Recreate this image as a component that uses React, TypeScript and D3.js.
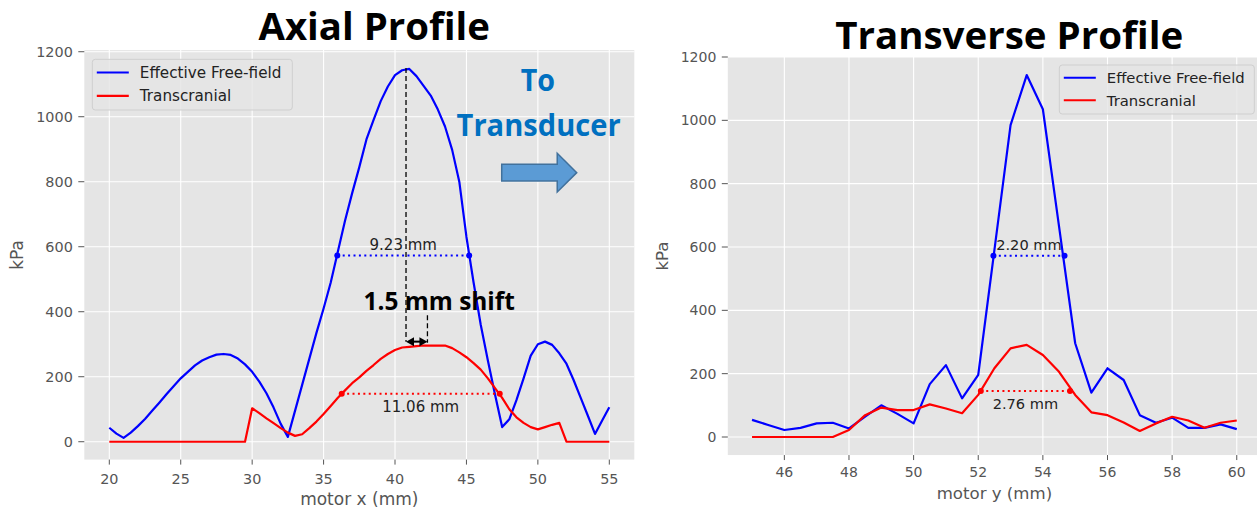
import React from "react";
import * as d3 from "d3";

// ---- Axial scan (motor x, mm) ----
const axialPos = [
  20, 20.5, 21, 21.5, 22, 22.5, 23, 23.5, 24, 24.5, 25, 25.5, 26, 26.5, 27, 27.5, 28, 28.5, 29, 29.5,
  30, 30.5, 31, 31.5, 32, 32.5, 33, 33.5, 34, 34.5, 35, 35.5, 36, 36.5, 37, 37.5, 38, 38.5, 39, 39.5,
  40, 40.5, 41, 41.5, 42, 42.5, 43, 43.5, 44, 44.5, 45, 45.5, 46, 46.5, 47, 47.5, 48, 48.5, 49, 49.5,
  50, 50.5, 51, 51.5, 52, 52.5, 53, 53.5, 54, 54.5, 55,
];
const axialFreeField = [
  43, 25, 12, 28, 48, 70, 95, 120, 146, 171, 195, 215, 235, 250, 260, 268, 270, 267, 256, 238,
  215, 185, 149, 105, 55, 15, 95, 175, 255, 335, 410, 490, 585, 680, 765, 845, 930, 990, 1048, 1093,
  1128, 1143, 1147, 1125, 1095, 1065, 1022, 970, 898, 800, 630, 490, 360, 250, 145, 45, 69, 128, 195, 265,
  300, 308, 298, 272, 240, 190, 135, 80, 24, 65, 106,
];
const axialTranscranial = [
  0, 0, 0, 0, 0, 0, 0, 0, 0, 0, 0, 0, 0, 0, 0, 0, 0, 0, 0, 0,
  103, 88, 72, 57, 42, 28, 18, 23, 42, 62, 85, 110, 135, 158, 180, 198, 218, 236, 255, 270,
  282, 290, 292, 294, 296, 296, 296, 296, 288, 275, 260, 242, 222, 195, 165, 135, 100, 75, 58, 45,
  38, 45, 52, 58, 0, 0, 0, 0, 0, 0, 0,
];

// ---- Transverse scan (motor y, mm) ----
const transPos = [
  45, 45.5, 46, 46.5, 47, 47.5, 48, 48.5, 49, 49.5, 50, 50.5, 51, 51.5, 52, 52.5,
  53, 53.5, 54, 54.5, 55, 55.5, 56, 56.5, 57, 57.5, 58, 58.5, 59, 59.5, 60,
];
const transFreeField = [
  54, 38, 22, 29, 43, 45, 27, 64, 100, 73, 43, 167, 227, 122, 196, 590,
  985, 1143, 1035, 665, 296, 140, 217, 180, 69, 45, 61, 29, 29, 40, 25,
];
const transTranscranial = [
  0, 0, 0, 0, 0, 0, 22, 69, 93, 85, 85, 103, 90, 75, 133, 217,
  280, 291, 259, 206, 133, 78, 69, 46, 19, 43, 64, 52, 29, 45, 52,
];

const seriesNames = ["Effective Free-field", "Transcranial"];
const seriesColors = ["#0000ff", "#ff0000"];

const axialXTicks = [20, 25, 30, 35, 40, 45, 50, 55];
const transXTicks = [46, 48, 50, 52, 54, 56, 58, 60];
const kpaTicks = [0, 200, 400, 600, 800, 1000, 1200];

// Full width at half maximum: start (mm), width (mm), level (kPa)
const axialFwhm = [
  { start: 35.96, width: 9.23, level: 573, label: "9.23 mm", above: true },
  { start: 36.27, width: 11.06, level: 148, label: "11.06 mm", above: false },
];
const transFwhm = [
  { start: 52.47, width: 2.2, level: 572, label: "2.20 mm", above: true },
  { start: 52.08, width: 2.76, level: 145, label: "2.76 mm", above: false },
];

// Focal shift annotation on the axial profile
const focalShift = { peakX: 40.77, peakValue: 1150, shift: 1.5, arrowLevel: 308, tickTop: 389, label: "1.5 mm shift" };
// Direction hint
const towardTransducer = { lines: ["To", "Transducer"], x: 50.05, y: [1080, 940], arrowFrom: 47.47, arrowTo: 52.72, arrowLevel: 828 };

const BG = "#e5e5e5";
const INK = "#555555";
const TICK_FONT = "DejaVu Sans, sans-serif";
const HEAD_FONT = "'Open Sans', Lato, sans-serif";

type Fwhm = { start: number; width: number; level: number; label: string; above: boolean };

type PanelProps = {
  xDomain: [number, number];
  xRange: [number, number];
  yDomain: [number, number];
  yRange: [number, number];
  pos: number[];
  series: number[][];
  xTicks: number[];
  xLabel: string;
  fwhm: Fwhm[];
  tickSize: number;
  labelSize: number;
  annoSize: number;
  xTickBaseline: number;
  xLabelBaseline: number;
  yLabelX: number;
  legend: { x: number; y: number; w: number; h: number; fontSize: number };
  children?: (x: d3.ScaleLinear<number, number>, y: d3.ScaleLinear<number, number>) => React.ReactNode;
};

function Panel(p: PanelProps) {
  const x = d3.scaleLinear().domain(p.xDomain).range(p.xRange);
  const y = d3.scaleLinear().domain(p.yDomain).range(p.yRange);
  const [x0, x1] = p.xRange;
  const [yb, yt] = p.yRange;
  const line = d3
    .line<number>()
    .x((_, i) => x(p.pos[i]))
    .y((d) => y(d));
  const clipId = `clip-${Math.round(x0)}`;
  const lg = p.legend;
  const rowH = lg.h / 2;
  return (
    <g>
      <defs>
        <clipPath id={clipId}>
          <rect x={x0} y={yt} width={x1 - x0} height={yb - yt} />
        </clipPath>
      </defs>
      <rect x={x0} y={yt} width={x1 - x0} height={yb - yt} fill={BG} />
      {p.xTicks.map((t) => (
        <line key={`gx${t}`} x1={x(t)} x2={x(t)} y1={yt} y2={yb} stroke="#fff" strokeWidth={1.1} />
      ))}
      {kpaTicks.map((t) => (
        <line key={`gy${t}`} x1={x0} x2={x1} y1={y(t)} y2={y(t)} stroke="#fff" strokeWidth={1.1} />
      ))}
      {/* ticks and tick labels */}
      {p.xTicks.map((t) => (
        <g key={`tx${t}`}>
          <line x1={x(t)} x2={x(t)} y1={yb} y2={yb + 5} stroke={INK} strokeWidth={1} />
          <text x={x(t)} y={p.xTickBaseline} textAnchor="middle" fontFamily={TICK_FONT} fontSize={p.tickSize} fill={INK}>
            {t}
          </text>
        </g>
      ))}
      {kpaTicks.map((t) => (
        <g key={`ty${t}`}>
          <line x1={x0 - 6} x2={x0} y1={y(t)} y2={y(t)} stroke={INK} strokeWidth={1} />
          <text x={x0 - 11.5} y={y(t)} dy="0.36em" textAnchor="end" fontFamily={TICK_FONT} fontSize={p.tickSize} fill={INK}>
            {t}
          </text>
        </g>
      ))}
      <text x={(x0 + x1) / 2} y={p.xLabelBaseline} textAnchor="middle" fontFamily={TICK_FONT} fontSize={p.labelSize} fill={INK}>
        {p.xLabel}
      </text>
      <text
        transform={`translate(${p.yLabelX},${(yb + yt) / 2}) rotate(-90)`}
        textAnchor="middle"
        fontFamily={TICK_FONT}
        fontSize={p.labelSize}
        fill={INK}
      >
        kPa
      </text>

      <g clipPath={`url(#${clipId})`}>
        {p.series.map((s, i) => (
          <path key={`s${i}`} d={line(s) || ""} fill="none" stroke={seriesColors[i]} strokeWidth={2.2} strokeLinejoin="round" />
        ))}
        {p.fwhm.map((f, i) => {
          const xa = x(f.start);
          const xb = x(f.start + f.width);
          const yy = y(f.level);
          return (
            <g key={`f${i}`}>
              <line x1={xa} x2={xb} y1={yy} y2={yy} stroke={seriesColors[i]} strokeWidth={2} strokeDasharray="2 3.4" />
              <circle cx={xa} cy={yy} r={3} fill={seriesColors[i]} />
              <circle cx={xb} cy={yy} r={3} fill={seriesColors[i]} />
              <text
                x={(xa + xb) / 2}
                y={f.above ? yy - 6 : yy + 18}
                textAnchor="middle"
                fontFamily={TICK_FONT}
                fontSize={p.annoSize}
                fill="#222"
              >
                {f.label}
              </text>
            </g>
          );
        })}
      </g>
      {p.children && p.children(x, y)}

      {/* legend */}
      <rect x={lg.x} y={lg.y} width={lg.w} height={lg.h} rx={3} fill={BG} fillOpacity={0.8} stroke="#cfcfcf" strokeWidth={1} />
      {seriesNames.map((n, i) => {
        const cy = lg.y + rowH * (i + 0.5) + (i === 0 ? 0.5 : -1.5);
        return (
          <g key={n}>
            <line x1={lg.x + 4.5} x2={lg.x + 36.5} y1={cy} y2={cy} stroke={seriesColors[i]} strokeWidth={2.2} />
            <text x={lg.x + 47.5} y={cy} dy="0.36em" fontFamily={TICK_FONT} fontSize={lg.fontSize} fill="#222">
              {n}
            </text>
          </g>
        );
      })}
    </g>
  );
}

type HeadProps = { cx: number; y: number; width: number; size: number; color?: string; children: string };

function Heading({ cx, y, width, size, color = "#000", children }: HeadProps) {
  return (
    <text
      x={cx - width / 2}
      y={y}
      textLength={width}
      lengthAdjust="spacingAndGlyphs"
      fontFamily={HEAD_FONT}
      fontWeight={700}
      fontSize={size}
      fill={color}
    >
      {children}
    </text>
  );
}

export default function App() {
  return (
    <svg
      width={1257}
      height={512}
      viewBox="0 0 1257 512"
      style={{ position: "absolute", left: 0, top: 0, display: "block" }}
      xmlns="http://www.w3.org/2000/svg"
    >
      <rect x={0} y={0} width={1257} height={512} fill="#fff" />

      <Heading cx={374.2} y={39.5} width={231.5} size={37.5}>
        Axial Profile
      </Heading>
      <Heading cx={1009.2} y={48.5} width={348} size={37.5}>
        Transverse Profile
      </Heading>

      <Panel
        xDomain={[18.25, 56.75]}
        xRange={[84.3, 634.3]}
        yDomain={[-55, 1205]}
        yRange={[459.6, 50.1]}
        pos={axialPos}
        series={[axialFreeField, axialTranscranial]}
        xTicks={axialXTicks}
        xLabel="motor x (mm)"
        fwhm={axialFwhm}
        tickSize={14.4}
        labelSize={17}
        annoSize={15}
        xTickBaseline={484}
        xLabelBaseline={505}
        yLabelX={23}
        legend={{ x: 92.3, y: 59.3, w: 200, h: 50.7, fontSize: 15.2 }}
      >
        {(x, y) => {
          const xa = x(focalShift.peakX);
          const xb = x(focalShift.peakX + focalShift.shift);
          const ya = y(focalShift.arrowLevel);
          const head = 7;
          const half = 4.5;
          const t = towardTransducer;
          const bx0 = x(t.arrowFrom);
          const bx1 = x(t.arrowTo);
          const by = y(t.arrowLevel);
          const headStart = bx1 - 19.5;
          const textCx = x(t.x);
          return (
            <g>
              <line x1={xa} x2={xa} y1={y(focalShift.peakValue)} y2={ya} stroke="#000" strokeWidth={1.3} strokeDasharray="5 3" />
              <line x1={xb} x2={xb} y1={y(focalShift.tickTop)} y2={ya + 1} stroke="#000" strokeWidth={1.3} strokeDasharray="5 3" />
              <line x1={xa + head} x2={xb - head} y1={ya} y2={ya} stroke="#000" strokeWidth={2} />
              <path d={`M${xa},${ya}L${xa + head + 1},${ya - half}L${xa + head + 1},${ya + half}Z`} fill="#000" />
              <path d={`M${xb},${ya}L${xb - head - 1},${ya - half}L${xb - head - 1},${ya + half}Z`} fill="#000" />
              <Heading cx={439.2} y={309.5} width={151.5} size={24.8}>
                {focalShift.label}
              </Heading>

              <Heading cx={textCx - 0.8} y={y(t.y[0])} width={34.3} size={30} color="#0070c0">
                {t.lines[0]}
              </Heading>
              <Heading cx={textCx} y={y(t.y[1])} width={164} size={30} color="#0070c0">
                {t.lines[1]}
              </Heading>
              <path
                d={`M${bx0},${by - 8.3}L${headStart},${by - 8.3}L${headStart},${by - 19.3}L${bx1},${by}L${headStart},${by + 19.3}L${headStart},${by + 8.3}L${bx0},${by + 8.3}Z`}
                fill="#5b9bd5"
                stroke="#41719c"
                strokeWidth={1.5}
              />
            </g>
          );
        }}
      </Panel>

      <Panel
        xDomain={[44.25, 60.75]}
        xRange={[727.8, 1261]}
        yDomain={[-57, 1200]}
        yRange={[455.05, 57]}
        pos={transPos}
        series={[transFreeField, transTranscranial]}
        xTicks={transXTicks}
        xLabel="motor y (mm)"
        fwhm={transFwhm}
        tickSize={14}
        labelSize={16.6}
        annoSize={14.6}
        xTickBaseline={476.5}
        xLabelBaseline={499}
        yLabelX={668}
        legend={{ x: 1059.3, y: 65, w: 195, h: 49, fontSize: 14.8 }}
      />
    </svg>
  );
}
